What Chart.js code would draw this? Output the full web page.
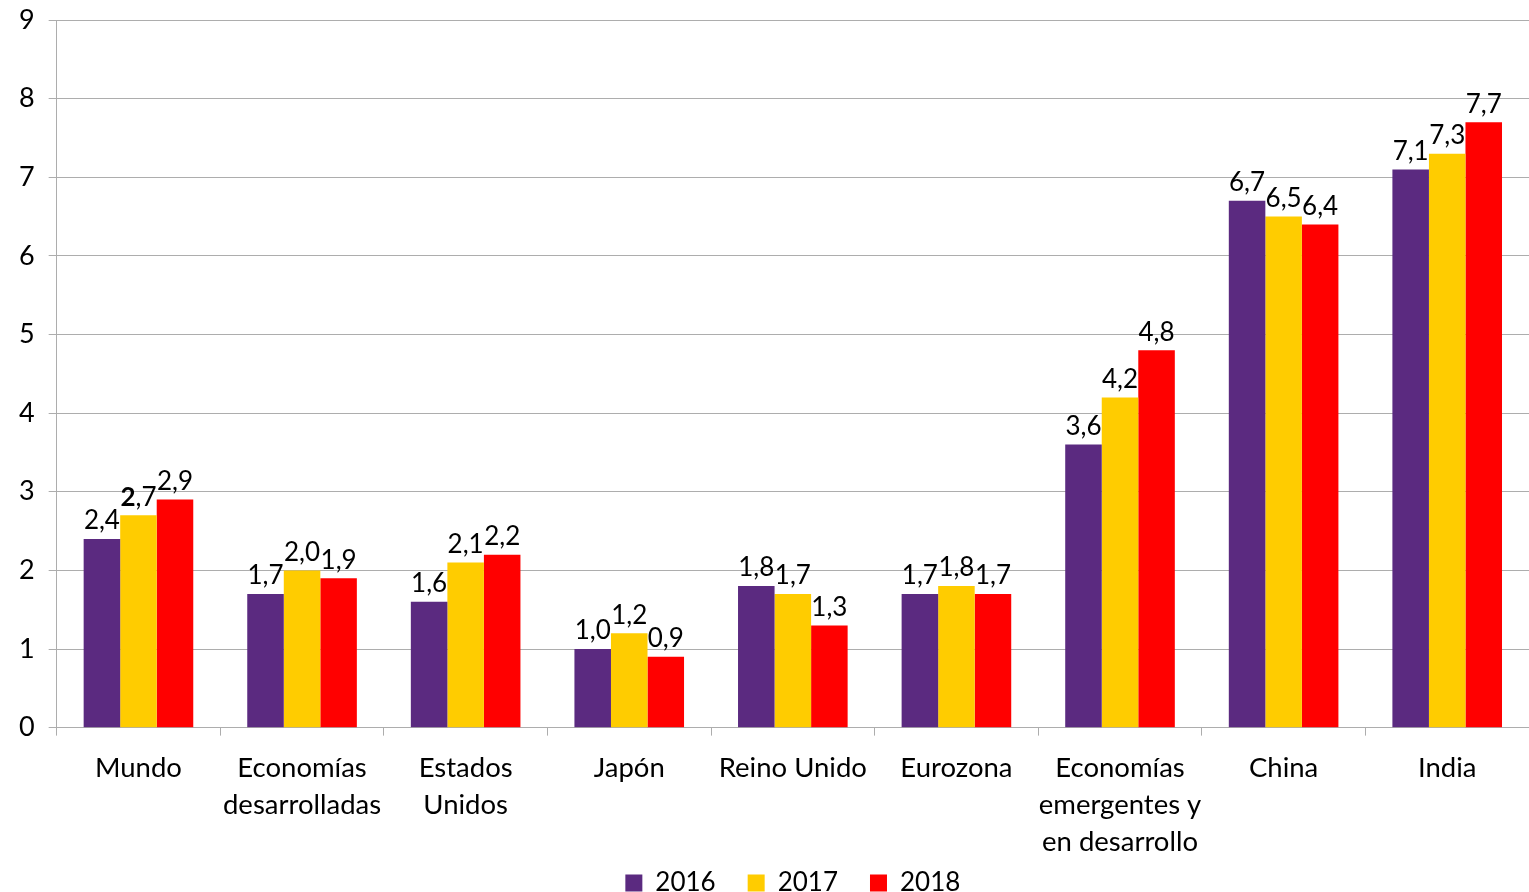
<!DOCTYPE html>
<html lang="es">
<head>
  <meta charset="UTF-8" />
  <title>Crecimiento del PIB</title>
  <script src="https://cdn.jsdelivr.net/npm/chart.js"></script>
  <style>
    html, body { margin: 0; padding: 0; background: #fff; }
    .chart-container { width: 1529px; height: 892px; }
  </style>
</head>
<body>
  <div class="chart-container">
    <canvas id="growthChart"></canvas>
  </div>

  <script>
    const categories = [
      'Mundo',
      ['Economías', 'desarrolladas'],
      ['Estados', 'Unidos'],
      'Japón',
      'Reino Unido',
      'Eurozona',
      ['Economías', 'emergentes y', 'en desarrollo'],
      'China',
      'India'
    ];
    const years = ['2016', '2017', '2018'];
    const values2016 = [2.4, 1.7, 1.6, 1.0, 1.8, 1.7, 3.6, 6.7, 7.1];
    const values2017 = [2.7, 2.0, 2.1, 1.2, 1.7, 1.8, 4.2, 6.5, 7.3];
    const values2018 = [2.9, 1.9, 2.2, 0.9, 1.3, 1.7, 4.8, 6.4, 7.7];
    const yTicks = [0, 1, 2, 3, 4, 5, 6, 7, 8, 9];
    // labels whose integer part is set in bold: [dataset, index]
    const boldLabels = [[1, 0]];

    const FONT = 'Lato, "Open Sans", sans-serif';
    const X_LABEL_OVERLAP = 37; // x labels may run into the legend's top padding

    function fmt(v) {
      return v.toFixed(1).replace('.', ',');
    }

    // value labels above each bar, decimal comma
    const barLabels = {
      id: 'barLabels',
      afterDatasetsDraw(chart) {
        const ctx = chart.ctx;
        const normal = '26px ' + FONT;
        const bold = 'bold 26px ' + FONT;
        ctx.save();
        ctx.fillStyle = '#000';
        ctx.textBaseline = 'bottom';
        chart.data.datasets.forEach((ds, i) => {
          chart.getDatasetMeta(i).data.forEach((bar, j) => {
            const text = fmt(ds.data[j]);
            const y = bar.y - 5;
            const isBold = boldLabels.some(b => b[0] === i && b[1] === j);
            if (!isBold) {
              ctx.font = normal;
              ctx.textAlign = 'center';
              ctx.fillText(text, bar.x, y);
              return;
            }
            const [head, tail] = text.split(',');
            ctx.font = bold;
            const wHead = ctx.measureText(head).width;
            ctx.font = normal;
            const wTail = ctx.measureText(',' + tail).width;
            const x0 = bar.x - (wHead + wTail) / 2;
            ctx.textAlign = 'left';
            ctx.font = bold;
            ctx.fillText(head, x0, y);
            ctx.font = normal;
            ctx.fillText(',' + tail, x0 + wHead, y);
          });
        });
        ctx.restore();
      }
    };

    // centre the legend under the plot area and give the x labels their full height back
    const layoutTweaks = {
      id: 'layoutTweaks',
      afterLayout(chart) {
        const lg = chart.legend;
        if (lg) {
          lg.left = chart.chartArea.left;
          lg.right = chart.chartArea.right;
        }
        chart.scales.x.bottom += X_LABEL_OVERLAP;
      }
    };

    new Chart(document.getElementById('growthChart'), {
      type: 'bar',
      data: {
        labels: categories,
        datasets: [
          { label: years[0], data: values2016, backgroundColor: '#5B2A80' },
          { label: years[1], data: values2017, backgroundColor: '#FFCC00' },
          { label: years[2], data: values2018, backgroundColor: '#FF0000' }
        ]
      },
      options: {
        responsive: true,
        maintainAspectRatio: false,
        animation: false,
        events: [],
        layout: { padding: { top: 0, left: 5, right: 0, bottom: -14 } },
        datasets: {
          bar: { categoryPercentage: 0.67, barPercentage: 1.0 }
        },
        scales: {
          x: {
            grid: {
              drawOnChartArea: false,
              drawTicks: true,
              tickLength: 8,
              color: '#ADADAD'
            },
            border: { color: '#ADADAD' },
            ticks: {
              color: '#000',
              padding: 14,
              maxRotation: 0,
              autoSkip: false,
              font: { family: FONT, size: 27.5, lineHeight: 1.35 }
            },
            afterFit(axis) {
              axis.height -= X_LABEL_OVERLAP;
            }
          },
          y: {
            min: 0,
            max: 9,
            afterBuildTicks(axis) {
              axis.ticks = yTicks.map(v => ({ value: v }));
            },
            afterFit(axis) {
              axis.paddingTop = 20;
            },
            grid: { color: '#ADADAD', tickLength: 8 },
            border: { color: '#ADADAD' },
            ticks: {
              color: '#000',
              padding: 14,
              font: { family: FONT, size: 27, lineHeight: 1.0 }
            }
          }
        },
        plugins: {
          tooltip: { enabled: false },
          legend: {
            position: 'bottom',
            labels: {
              color: '#000',
              boxWidth: 17,
              boxHeight: 17,
              padding: 32,
              font: { family: FONT, size: 26 }
            }
          }
        }
      },
      plugins: [barLabels, layoutTweaks]
    });
  </script>
</body>
</html>
